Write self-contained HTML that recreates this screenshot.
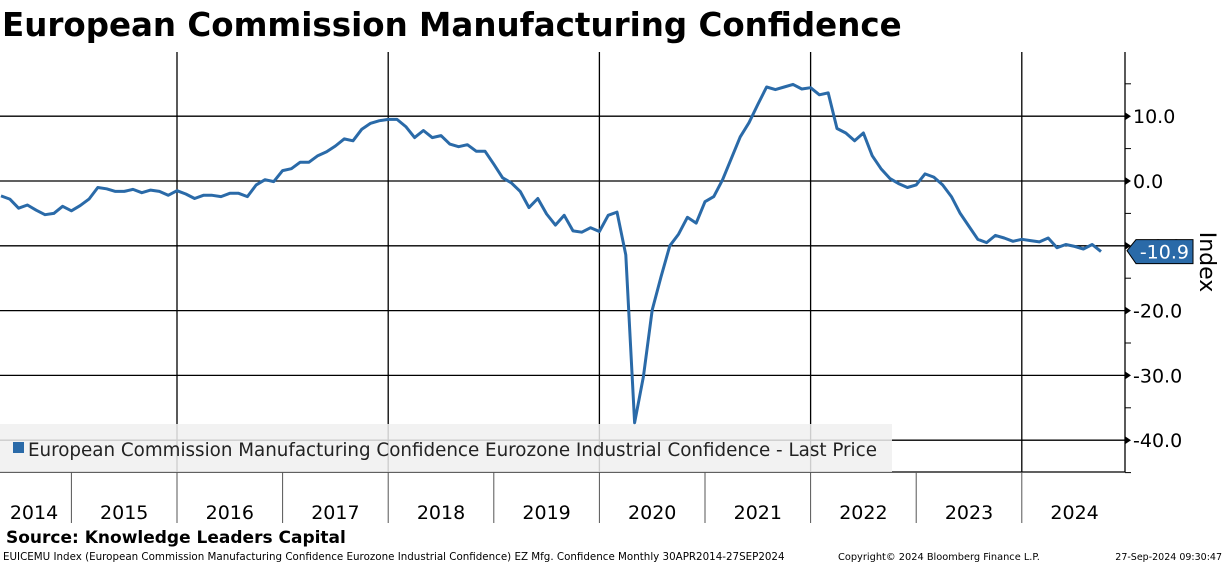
<!DOCTYPE html>
<html><head><meta charset="utf-8"><style>
body{margin:0;width:1224px;height:565px;background:#fff;overflow:hidden;font-family:"DejaVu Sans","Liberation Sans",sans-serif}
svg{display:block}
</style></head><body>
<svg id="chart" width="1224" height="565">
<text x="2" y="36" font-size="32.5" font-weight="bold" font-family="DejaVu Sans, sans-serif">European Commission Manufacturing Confidence</text>
<g id="grid"></g>
<rect x="0" y="424" width="892" height="48" fill="#f0f0f0" opacity="0.85"/>
<rect x="13" y="442" width="11" height="11" fill="#2a6aa8"/>
<text x="28" y="456" font-size="18.3" fill="#222">European Commission Manufacturing Confidence Eurozone Industrial Confidence - Last Price</text>
<g id="marks"></g>
<text x="6" y="543" font-size="17" font-weight="bold">Source: Knowledge Leaders Capital</text>
<text x="3" y="560" font-size="10.3">EUICEMU Index (European Commission Manufacturing Confidence Eurozone Industrial Confidence) EZ Mfg. Confidence  Monthly 30APR2014-27SEP2024</text>
<text x="838" y="560" font-size="9.8">Copyright© 2024 Bloomberg Finance L.P.</text>
<text x="1222" y="560" font-size="9.5" text-anchor="end">27-Sep-2024 09:30:47</text>
<text transform="translate(1200,262) rotate(90)" font-size="22" text-anchor="middle">Index</text>
</svg>
<script>
const years=[2014,2015,2016,2017,2018,2019,2020,2021,2022,2023,2024];
const yTicks=[10,0,-10,-20,-30,-40];
const yTickLabels=["10.0","0.0","-10.0","-20.0","-30.0","-40.0"];
const startYear=2014, startMonth=4;
const values=[
-2.3,-2.8,-4.2,-3.7,-4.5,-5.2,-5.0,-3.9,-4.6,
-3.8,-2.8,-1.0,-1.2,-1.6,-1.6,-1.3,-1.8,-1.4,-1.6,-2.2,-1.5,
-2.0,-2.7,-2.2,-2.2,-2.4,-1.9,-1.9,-2.4,-0.6,0.2,-0.1,1.6,
1.9,2.9,2.9,3.9,4.5,5.4,6.5,6.2,8.0,8.9,9.3,9.5,
9.5,8.4,6.7,7.8,6.7,7.0,5.7,5.3,5.6,4.6,4.6,2.6,
0.5,-0.3,-1.6,-4.1,-2.7,-5.1,-6.8,-5.3,-7.7,-7.9,-7.2,-7.8,
-5.3,-4.8,-11.4,-37.3,-30.2,-19.9,-14.8,-10.0,-8.2,-5.6,-6.5,-3.2,
-2.4,0.2,3.5,6.8,9.0,11.8,14.5,14.1,14.5,14.9,14.2,14.4,
13.3,13.6,8.1,7.4,6.2,7.4,3.9,1.9,0.4,-0.4,-1.0,-0.6,
1.1,0.6,-0.6,-2.4,-5.0,-7.0,-9.0,-9.5,-8.4,-8.8,-9.3,-9.0,
-9.2,-9.4,-8.8,-10.3,-9.8,-10.1,-10.5,-9.8,-10.9
];
const lastLabel="-10.9";
const NS="http://www.w3.org/2000/svg";
const yearW=105.6, x2016=177;
function X(yearFrac){return x2016+(yearFrac-2016)*yearW;}
function Y(v){return 181-v*6.48;}
function mk(tag,attrs,parent){const e=document.createElementNS(NS,tag);for(const k in attrs)e.setAttribute(k,attrs[k]);parent.appendChild(e);return e;}
const grid=document.getElementById('grid'), marks=document.getElementById('marks');
yTicks.forEach((t,i)=>{
  const l=mk('line',{x1:0,x2:1125,y1:Y(t),y2:Y(t),stroke:'#000','stroke-width':1.3},grid);
  
  
  const a=mk('path',{d:`M1125 ${Y(t)-4}L1131 ${Y(t)}L1125 ${Y(t)+4}Z`,fill:'#000'},grid);
  
  
  const m=mk('line',{x1:1125,x2:1131,y1:Y(t-5),y2:Y(t-5),stroke:'#000'},grid);
  
  
  const tx=mk('text',{x:1133,y:Y(t)+7,'font-size':19},grid);
  tx.textContent=yTickLabels[i];
  
  
});
const mt=mk('line',{x1:1125,x2:1131,y1:Y(15),y2:Y(15),stroke:'#000'},grid);


const ax=mk('line',{x1:1125,x2:1125,y1:52,y2:472,stroke:'#000','stroke-width':1.3},grid);


const bx=mk('line',{x1:0,x2:1125,y1:472,y2:472,stroke:'#000','stroke-width':1.3},grid);


years.forEach(yr=>{
  const x=X(yr);
  if(yr%2===0 && x>0){
    const l=mk('line',{x1:x,x2:x,y1:52,y2:472,stroke:'#000','stroke-width':1.3},grid);
    
    
  }
  if(x>0){
    const s=mk('line',{x1:x,x2:x,y1:472,y2:523,stroke:'#555','stroke-width':1},grid);
    
    
  }
  const cx=Math.max(X(yr+0.5),34);
  const t=mk('text',{x:cx,y:519,'font-size':19,'text-anchor':'middle'},grid);
  t.textContent=yr;
  
  
});
const pts=values.map((v,i)=>{const m=startMonth+i;const yf=startYear+m/12;return [X(yf),Y(v)];});
const line=mk('polyline',{points:pts.map(p=>p[0].toFixed(1)+','+p[1].toFixed(1)).join(' '),fill:'none',stroke:'#2a6aa8','stroke-width':3,'stroke-linejoin':'round'},marks);


const ly=Y(values[values.length-1]);
const tag=mk('path',{d:`M1127 ${ly-1} L1136 ${ly-12} L1193 ${ly-12} L1193 ${ly+12} L1136 ${ly+12} Z`,fill:'#2a6aa8',stroke:'#000','stroke-width':1},marks);


const tt=mk('text',{x:1189,y:ly+7,'font-size':19,fill:'#fff','text-anchor':'end'},marks);
tt.textContent=lastLabel;


</script>
</body></html>
